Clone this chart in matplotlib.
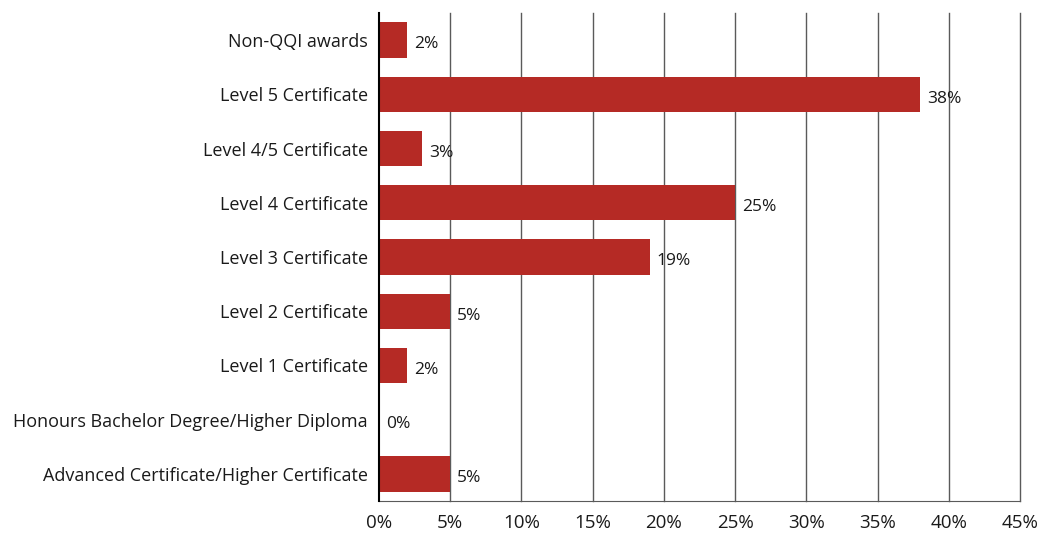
import matplotlib.pyplot as plt

categories = [
    "Non-QQI awards",
    "Level 5 Certificate",
    "Level 4/5 Certificate",
    "Level 4 Certificate",
    "Level 3 Certificate",
    "Level 2 Certificate",
    "Level 1 Certificate",
    "Honours Bachelor Degree/Higher Diploma",
    "Advanced Certificate/Higher Certificate",
]
values = [2, 38, 3, 25, 19, 5, 2, 0, 5]
xticks = [0, 5, 10, 15, 20, 25, 30, 35, 40, 45]

plt.rcParams['font.family'] = ['Open Sans', 'DejaVu Sans']

fig = plt.figure(figsize=(10.4, 5.33), dpi=100)
ax = fig.add_axes([0.3644, 0.060, 0.6164, 0.9156])

pos = list(range(len(categories)))
ax.barh(pos, values, height=0.65, color='#b52a25', zorder=3)
for p, v in zip(pos, values):
    ax.text(v + 0.5, p + 0.08, f"{v}%", va='center', ha='left',
            fontsize=12.5, color='#1a1a1a')

ax.set_ylim(len(categories) - 0.5, -0.5)
ax.set_xlim(0, 45)
ax.set_yticks(pos)
ax.set_yticklabels(categories, fontsize=13, color='#1a1a1a')
ax.set_xticks(xticks)
ax.set_xticklabels([f"{t}%" for t in xticks], fontsize=13.5, color='#1a1a1a')
ax.tick_params(length=0)
ax.tick_params(axis='x', pad=9)
ax.tick_params(axis='y', pad=8)

for t in xticks[1:]:
    ax.axvline(t, color='#5a5a5a', linewidth=1, zorder=0, clip_on=False)
for s in ['top', 'right']:
    ax.spines[s].set_visible(False)
ax.spines['bottom'].set_color('#5a5a5a')
ax.spines['left'].set_color('black')
ax.spines['left'].set_linewidth(1.5)
ax.spines['left'].set_zorder(4)

fig.savefig("out.png", dpi=100)
